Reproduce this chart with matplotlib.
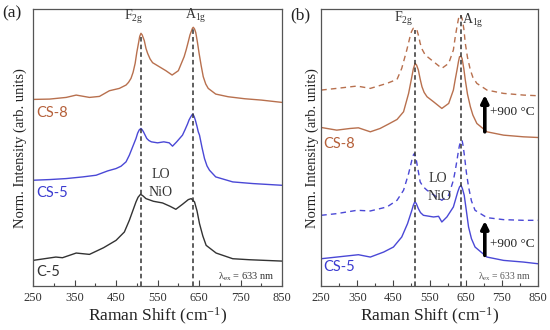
import matplotlib
matplotlib.use("Agg")
import matplotlib.pyplot as plt
from matplotlib.ticker import MultipleLocator

plt.rcParams['font.family'] = ['Liberation Serif', 'DejaVu Serif']
plt.rcParams['mathtext.fontset'] = 'custom'
plt.rcParams['mathtext.rm'] = 'Liberation Serif'
plt.rcParams['mathtext.it'] = 'Liberation Serif:italic'

# ---- data (Raman shift in cm-1, offset intensities) ----
# panel (a)
a_cs8_x = [250, 290, 330, 354, 386, 410, 434, 458, 474, 480, 486, 491, 496, 500, 504, 507, 510,
           513, 518, 522, 526, 532, 538, 554, 570, 585, 600, 614, 619, 624, 628, 631, 634, 636,
           639, 642, 646, 650, 655, 660, 666, 672, 690, 720, 760, 800, 850]
a_cs8_y = [5.59, 5.60, 5.65, 5.72, 5.65, 5.68, 5.85, 5.92, 6.02, 6.10, 6.22, 6.40, 6.67, 7.00,
           7.27, 7.48, 7.57, 7.52, 7.35, 7.12, 6.97, 6.80, 6.69, 6.57, 6.45, 6.32, 6.45, 6.87,
           7.08, 7.32, 7.52, 7.62, 7.72, 7.75, 7.70, 7.59, 7.30, 6.97, 6.60, 6.27, 6.05, 5.92,
           5.75, 5.67, 5.61, 5.57, 5.50]

a_cs5_x = [250, 290, 330, 370, 402, 430, 450, 462, 474, 482, 490, 498, 502, 506, 510, 513, 516,
           520, 524, 529, 535, 550, 565, 578, 586, 596, 610, 616, 622, 626, 630, 633, 635, 638,
           641, 645, 648, 651, 657, 663, 669, 675, 690, 731, 780, 848]
a_cs5_y = [3.17, 3.19, 3.22, 3.27, 3.32, 3.45, 3.52, 3.59, 3.72, 3.92, 4.17, 4.42, 4.58, 4.68,
           4.72, 4.68, 4.62, 4.52, 4.42, 4.36, 4.32, 4.29, 4.32, 4.29, 4.19, 4.32, 4.52, 4.68,
           4.85, 4.98, 5.07, 5.13, 5.15, 5.08, 4.97, 4.78, 4.62, 4.52, 4.15, 3.82, 3.60, 3.47,
           3.27, 3.12, 3.07, 3.02]

a_c5_x = [250, 305, 321, 354, 386, 420, 450, 470, 482, 498, 503, 509, 515, 522, 540, 562, 580,
          594, 610, 624, 631, 639, 645, 651, 659, 667, 691, 731, 771, 848]
a_c5_y = [0.77, 0.87, 0.85, 0.99, 0.95, 1.15, 1.37, 1.62, 1.97, 2.52, 2.66, 2.75, 2.70, 2.62,
          2.54, 2.49, 2.39, 2.30, 2.45, 2.59, 2.62, 2.52, 2.25, 1.87, 1.50, 1.22, 0.99, 0.82,
          0.79, 0.75]

# panel (b)
b_cs8_900_x = [250, 293, 349, 386, 432, 460, 473, 487, 496, 500, 505, 510, 515, 520, 524, 530,
               538, 561, 584, 603, 616, 621, 626, 630, 633, 636, 640, 645, 649, 655, 663, 670,
               681, 709, 755, 810, 850]
b_cs8_900_y = [5.87, 5.92, 5.99, 5.92, 6.07, 6.19, 6.52, 7.07, 7.47, 7.62, 7.72, 7.72, 7.67,
               7.48, 7.27, 7.08, 6.92, 6.72, 6.52, 6.67, 7.07, 7.45, 7.77, 8.00, 8.12, 8.10,
               8.02, 7.70, 7.27, 6.85, 6.47, 6.25, 6.07, 5.87, 5.77, 5.72, 5.70]

b_cs8_x = [250, 293, 330, 353, 386, 413, 436, 460, 478, 492, 501, 505, 510, 514, 519, 524, 529,
           535, 543, 561, 584, 603, 616, 621, 626, 630, 633, 637, 640, 645, 649, 655, 663, 670,
           681, 709, 755, 810, 850]
b_cs8_y = [4.75, 4.67, 4.72, 4.74, 4.62, 4.72, 4.85, 4.99, 5.22, 5.77, 6.27, 6.50, 6.67, 6.62,
           6.47, 6.20, 5.97, 5.80, 5.67, 5.52, 5.32, 5.47, 5.87, 6.18, 6.47, 6.72, 6.87, 6.88,
           6.82, 6.50, 6.17, 5.75, 5.37, 5.12, 4.87, 4.62, 4.52, 4.47, 4.45]

b_cs5_900_x = [250, 293, 349, 386, 432, 460, 478, 492, 501, 505, 508, 512, 515, 520, 524, 532,
               543, 570, 584, 603, 616, 621, 626, 630, 633, 637, 640, 643, 647, 652, 658, 666,
               676, 709, 755, 810, 850]
b_cs5_900_y = [2.12, 2.17, 2.27, 2.25, 2.37, 2.57, 2.87, 3.37, 3.77, 3.92, 3.97, 3.85, 3.67,
               3.37, 3.12, 2.98, 2.87, 2.67, 2.57, 2.72, 3.17, 3.45, 3.77, 4.05, 4.22, 4.35,
               4.37, 4.20, 3.87, 3.40, 2.97, 2.55, 2.27, 2.05, 1.99, 1.97, 1.97]

b_cs5_x = [250, 293, 353, 386, 423, 450, 473, 489, 501, 505, 509, 513, 519, 525, 533, 561, 575,
           584, 598, 616, 628, 633, 637, 641, 646, 652, 658, 666, 676, 709, 755, 810, 850]
b_cs5_y = [0.82, 0.87, 0.94, 0.87, 1.02, 1.17, 1.47, 1.87, 2.27, 2.42, 2.52, 2.48, 2.32, 2.20,
           2.12, 2.07, 2.09, 1.92, 2.07, 2.37, 2.82, 2.97, 3.02, 2.92, 2.72, 2.25, 1.77, 1.42,
           1.17, 0.87, 0.77, 0.72, 0.67]

peak_pos = [510, 636]
xticks = [250, 350, 450, 550, 650, 750, 850]

brown = '#b8704e'
blue = '#4a48d6'
dark = '#333333'
lbl_brown = '#b5603a'
lbl_blue = '#3b3bd0'
sans = ['Lato', 'DejaVu Sans']

fig = plt.figure(figsize=(5.5, 3.3), dpi=100)
ax1 = fig.add_axes([0.060, 0.133, 0.453, 0.840])
ax2 = fig.add_axes([0.584, 0.133, 0.394, 0.840])

for ax in (ax1, ax2):
    ax.set_xlim(250, 850)
    ax.set_ylim(0, 8.3)
    ax.set_xticks(xticks)
    ax.xaxis.set_minor_locator(MultipleLocator(50))
    ax.set_yticks([])
    ax.tick_params(axis='x', which='major', direction='in', length=4, width=0.8,
                   labelsize=9, pad=4, colors='#444444', labelcolor='#333333')
    ax.tick_params(axis='x', which='minor', direction='in', length=2.5, width=0.8,
                   colors='#444444')
    for s in ax.spines.values():
        s.set_color('#555555')
        s.set_linewidth(0.9)

# panel (a)
ax1.plot(a_cs8_x, a_cs8_y, color=brown, lw=1.0)
ax1.plot(a_cs5_x, a_cs5_y, color=blue, lw=1.0)
ax1.plot(a_c5_x, a_c5_y, color=dark, lw=1.0)
ax1.vlines(peak_pos, 0, [7.47, 7.72], colors='#333333', linestyles=(0, (3, 2)), lw=1.1)

ax1.text(492, 8.06, r'F$_{\mathrm{2g}}$', ha='center', va='center', fontsize=10, color='#333333')
ax1.text(643, 8.09, r'A$_{\mathrm{1g}}$', ha='center', va='center', fontsize=10, color='#333333')
ax1.text(558, 3.35, 'LO', ha='center', va='center', fontsize=10, color='#333333')
ax1.text(557, 2.79, 'NiO', ha='center', va='center', fontsize=10, color='#333333')
ax1.text(258, 5.18, 'CS-8', ha='left', va='center', fontsize=10.5, color=lbl_brown, family=sans)
ax1.text(258, 2.78, 'CS-5', ha='left', va='center', fontsize=10.5, color=lbl_blue, family=sans)
ax1.text(258, 0.41, 'C-5', ha='left', va='center', fontsize=10.5, color='#333333', family=sans)
ax1.text(832, 0.27, r'λ$_{\mathrm{ex}}$ = 633 nm', ha='right', va='center', fontsize=7.5,
         color='#333333')

# panel (b)
ax2.plot(b_cs8_900_x, b_cs8_900_y, color=brown, lw=1.0, ls=(0, (4, 3)))
ax2.plot(b_cs8_x, b_cs8_y, color=brown, lw=1.0)
ax2.plot(b_cs5_900_x, b_cs5_900_y, color=blue, lw=1.0, ls=(0, (4, 3)))
ax2.plot(b_cs5_x, b_cs5_y, color=blue, lw=1.0)
ax2.vlines(peak_pos, 0, [7.67, 8.12], colors='#333333', linestyles=(0, (3, 2)), lw=1.1)

ax2.text(478, 7.99, r'F$_{\mathrm{2g}}$', ha='center', va='center', fontsize=10, color='#333333')
ax2.text(669, 7.95, r'A$_{\mathrm{1g}}$', ha='center', va='center', fontsize=10, color='#333333')
ax2.text(574, 3.22, 'LO', ha='center', va='center', fontsize=10, color='#333333')
ax2.text(577, 2.67, 'NiO', ha='center', va='center', fontsize=10, color='#333333')
ax2.text(256, 4.27, 'CS-8', ha='left', va='center', fontsize=10.5, color=lbl_brown, family=sans)
ax2.text(256, 0.57, 'CS-5', ha='left', va='center', fontsize=10.5, color=lbl_blue, family=sans)
ax2.text(832, 0.27, r'λ$_{\mathrm{ex}}$ = 633 nm', ha='right', va='center', fontsize=7,
         color='#555555')

for y0, y1, ty in [(4.62, 5.72, 5.21), (0.92, 1.95, 1.27)]:
    ax2.annotate('', xy=(703, y1), xytext=(703, y0),
                 arrowprops=dict(arrowstyle='-|>', lw=2.6, color='black',
                                 mutation_scale=11, shrinkA=0, shrinkB=0))
    ax2.text(716, ty, '+900 °C', ha='left', va='center', fontsize=9.5, color='#222222')

# axis labels and panel letters
for xc in (0.036, 0.567):
    fig.text(xc, 0.552, 'Norm. Intensity (arb. units)', rotation=90, ha='center', va='center',
             fontsize=10.5, color='#222222')
for xc in (0.286, 0.781):
    fig.text(xc, 0.042, r'Raman Shift (cm$^{-1}$)', ha='center', va='center',
             fontsize=12.5, color='#222222')
fig.text(0.004, 0.958, '(a)', ha='left', va='center', fontsize=12.5, color='#222222')
fig.text(0.527, 0.953, '(b)', ha='left', va='center', fontsize=12.5, color='#222222')

fig.savefig('out.png', dpi=100)
